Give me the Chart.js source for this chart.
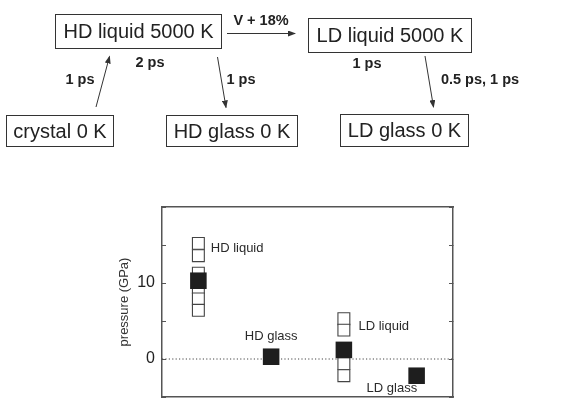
<!DOCTYPE html>
<html>
<head>
<meta charset="utf-8">
<script src="https://cdn.jsdelivr.net/npm/chart.js@4.4.1/dist/chart.umd.min.js"></script>
<style>
body { margin: 0; background: #fff; font-family: "Liberation Sans", Arial, sans-serif; color: #222; }
#wrap { position: relative; width: 585px; height: 401px; overflow: hidden; }
#pressureChart { position: absolute; left: 0; top: 0; }
.box { position: absolute; border: 1.3px solid #333; box-sizing: border-box; display: flex; align-items: center; justify-content: center; font-size: 20px; white-space: nowrap; }
.step { position: absolute; transform: translate(-50%, -50%); font-size: 14.5px; font-weight: bold; white-space: nowrap; }
#arrows { position: absolute; left: 0; top: 0; }
</style>
</head>
<body>
<div id="wrap">
  <canvas id="pressureChart" width="585" height="401"></canvas>

  <!-- preparation scheme -->
  <div class="box" style="left:55px;top:14px;width:167px;height:35px;">HD liquid 5000 K</div>
  <div class="box" style="left:308px;top:18px;width:164px;height:35px;">LD liquid 5000 K</div>
  <div class="box" style="left:6px;top:115px;width:108px;height:32px;">crystal 0 K</div>
  <div class="box" style="left:166px;top:115px;width:132px;height:32px;">HD glass 0 K</div>
  <div class="box" style="left:340px;top:114px;width:129px;height:33px;">LD glass 0 K</div>

  <div class="step" style="left:261px;top:20px;">V + 18%</div>
  <div class="step" style="left:150px;top:62px;">2 ps</div>
  <div class="step" style="left:80px;top:79px;">1 ps</div>
  <div class="step" style="left:241px;top:79px;">1 ps</div>
  <div class="step" style="left:367px;top:63px;">1 ps</div>
  <div class="step" style="left:480px;top:79px;">0.5 ps, 1 ps</div>

  <svg id="arrows" width="585" height="190">
    <defs>
      <marker id="head" markerUnits="userSpaceOnUse" markerWidth="8" markerHeight="6" refX="7" refY="3" orient="auto">
        <path d="M0,0 L8,3 L0,6 Z" fill="#333"></path>
      </marker>
    </defs>
    <g stroke="#333" stroke-width="1" marker-end="url(#head)">
      <line x1="227" y1="33.5" x2="295" y2="33.5"></line>
      <line x1="96" y1="107" x2="109.5" y2="56.5"></line>
      <line x1="217.5" y1="57" x2="226" y2="107.5"></line>
      <line x1="425" y1="56" x2="433.5" y2="107"></line>
    </g>
  </svg>
</div>

<script>
// Phases along the x axis
const phases = ['HD liquid', 'HD glass', 'LD liquid', 'LD glass'];
const phaseX = [1, 2, 3, 4];

// Mean pressure of each phase (GPa), filled squares
const meanPressure = [10.3, 0.3, 1.2, -2.2];

// Individual liquid runs (GPa), open squares
const hdLiquidRuns = [15.2, 13.6, 11.3, 9.4, 7.9, 6.4];
const ldLiquidRuns = [5.3, 3.8, -0.6, -2.2];

// Y axis: tick marks every 5, labels only at 0 and 10
const yMin = -5;
const yMax = 20;
const yStep = 5;
const yLabelled = [0, 10];

const meanPoints = phaseX.map((x, i) => ({ x: x, y: meanPressure[i] }));
const runPoints = hdLiquidRuns.map(y => ({ x: phaseX[0], y: y }))
    .concat(ldLiquidRuns.map(y => ({ x: phaseX[2], y: y })));
const zeroLine = [{ x: 0.5, y: 0 }, { x: 4.5, y: 0 }];

// Text labels next to the points, in data units
const labelSpots = [
    { x: 1.17, y: 14.6, align: 'left' },
    { x: 2.0, y: 3.0, align: 'center' },
    { x: 3.2, y: 4.3, align: 'left' },
    { x: 3.66, y: -3.9, align: 'center' }
];

const phaseLabels = {
    id: 'phaseLabels',
    afterDatasetsDraw(chart) {
        const ctx = chart.ctx;
        const xs = chart.scales.x;
        const ys = chart.scales.y;
        ctx.save();
        ctx.font = '13px "Liberation Sans", Arial, sans-serif';
        ctx.fillStyle = '#2a2a2a';
        ctx.textBaseline = 'middle';
        phases.forEach((name, i) => {
            ctx.textAlign = labelSpots[i].align;
            ctx.fillText(name, xs.getPixelForValue(labelSpots[i].x), ys.getPixelForValue(labelSpots[i].y));
        });
        ctx.restore();
    }
};

const frameColor = '#555';
const hiddenAxis = {
    type: 'linear',
    min: 0.5,
    max: 4.5,
    ticks: { display: false },
    grid: { display: false },
    border: { display: true, color: frameColor, width: 1.5 },
    afterFit(scale) { scale.height = 0; }
};

// keep the frame where the layout padding puts it
function fixWidth(w) {
    return function (scale) {
        scale.width = w;
        scale.paddingTop = 0;
        scale.paddingBottom = 0;
    };
}

const ctx = document.getElementById('pressureChart').getContext('2d');
const pressureChart = new Chart(ctx, {
    type: 'scatter',
    data: {
        datasets: [
            {
                label: 'mean',
                data: meanPoints,
                pointStyle: 'rect',
                pointRadius: 11.7,
                pointHoverRadius: 11.7,
                backgroundColor: '#1e1e1e',
                borderColor: '#1e1e1e',
                borderWidth: 0,
                order: 0
            },
            {
                label: 'runs',
                data: runPoints,
                pointStyle: 'rect',
                pointRadius: 8.4,
                pointHoverRadius: 8.4,
                backgroundColor: '#fff',
                borderColor: '#444',
                borderWidth: 1.1,
                order: 1
            },
            {
                label: 'zero',
                type: 'line',
                data: zeroLine,
                borderColor: '#444',
                borderWidth: 1,
                borderDash: [1.2, 2.2],
                pointRadius: 0,
                order: 2
            }
        ]
    },
    options: {
        responsive: false,
        animation: false,
        devicePixelRatio: 1,
        layout: {
            autoPadding: false,
            padding: { left: 113, right: 132, top: 207, bottom: 4 }
        },
        plugins: {
            legend: { display: false },
            tooltip: { enabled: false }
        },
        scales: {
            x: Object.assign({ position: 'bottom' }, hiddenAxis),
            x2: Object.assign({ position: 'top' }, hiddenAxis),
            y: {
                position: 'left',
                min: yMin,
                max: yMax,
                ticks: {
                    stepSize: yStep,
                    padding: 11,
                    color: '#222',
                    font: { family: '"Liberation Sans", Arial, sans-serif', size: 16 },
                    callback: value => yLabelled.includes(value) ? String(value) : ''
                },
                grid: { drawOnChartArea: false, tickLength: -4, color: frameColor, lineWidth: 1 },
                border: { display: true, color: frameColor, width: 1.5 },
                title: {
                    display: true,
                    text: 'pressure (GPa)',
                    color: '#333',
                    font: { family: '"Liberation Sans", Arial, sans-serif', size: 13 }
                },
                afterFit: fixWidth(49)
            },
            y2: {
                position: 'right',
                min: yMin,
                max: yMax,
                ticks: { stepSize: yStep, display: false },
                grid: { drawOnChartArea: false, tickLength: -4, color: frameColor, lineWidth: 1 },
                border: { display: true, color: frameColor, width: 1.5 },
                afterFit: fixWidth(0)
            }
        }
    },
    plugins: [phaseLabels]
});
</script>
</body>
</html>
